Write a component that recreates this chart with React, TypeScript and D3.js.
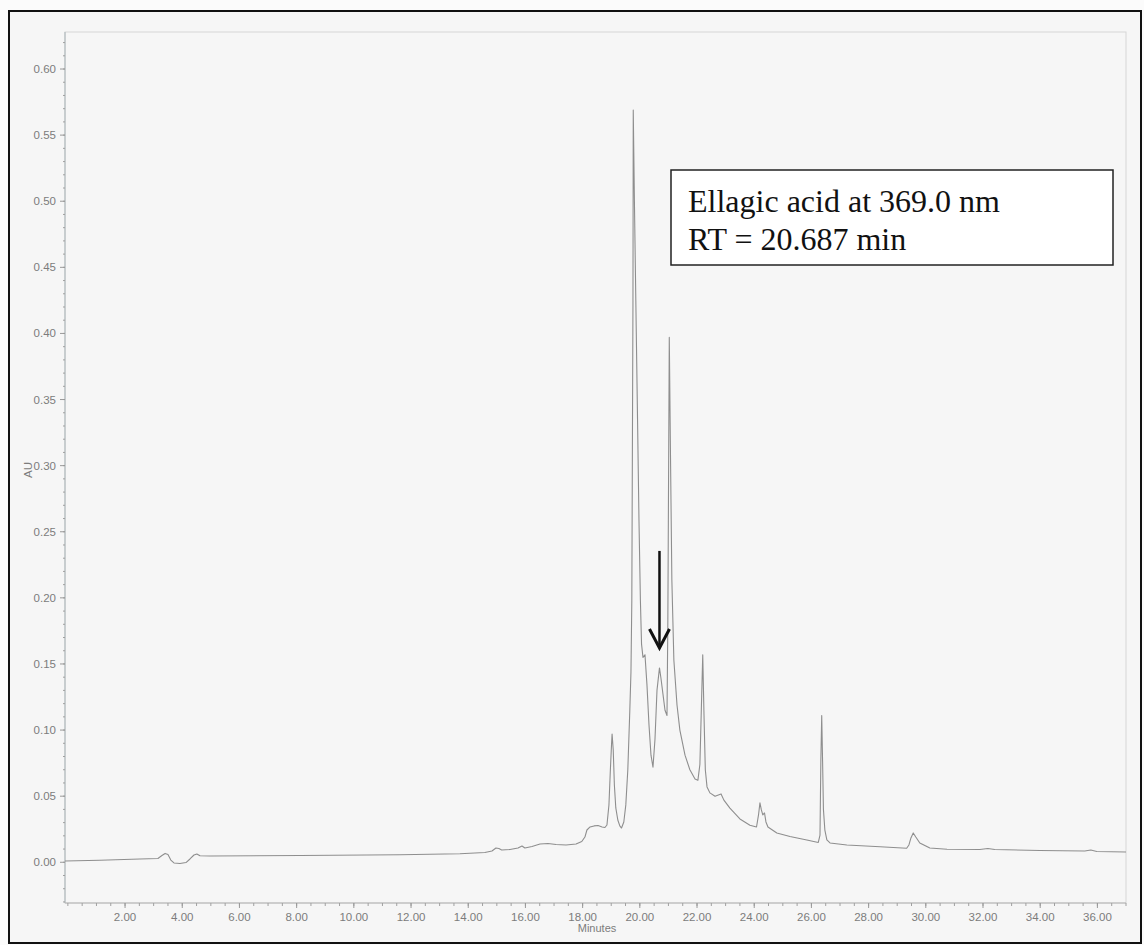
import React from "react";
import * as d3 from "d3";

// Chromatogram trace: retention time (min) and absorbance (AU)
const RT_MIN = [
  -0.1, 1.12, 2.52, 3.15, 3.29, 3.4, 3.5, 3.6, 3.71, 3.92, 4.13, 4.27, 4.41, 4.51, 4.62, 4.97,
  8.12, 11.61, 13.71, 14.58, 14.83, 14.97, 15.07, 15.17, 15.46, 15.74, 15.88, 15.98, 16.23, 16.51,
  16.79, 17.07, 17.42, 17.77, 17.97, 18.08, 18.15, 18.26, 18.4, 18.54, 18.68, 18.78, 18.85, 18.92,
  18.97, 19.01, 19.03, 19.07, 19.11, 19.16, 19.23, 19.3, 19.36, 19.44, 19.51, 19.58, 19.65, 19.69,
  19.72, 19.74, 19.76, 19.77, 19.81, 19.86, 19.92, 19.97, 20.02, 20.06, 20.11, 20.18, 20.25, 20.32,
  20.39, 20.46, 20.53, 20.6, 20.687, 20.74, 20.81, 20.88, 20.95, 20.98, 21.01, 21.03, 21.07, 21.12,
  21.19, 21.3, 21.4, 21.58, 21.75, 21.93, 22.03, 22.1, 22.15, 22.2, 22.24, 22.29, 22.35, 22.45,
  22.63, 22.84, 22.94, 23.15, 23.5, 23.85, 24.08, 24.15, 24.2, 24.25, 24.3, 24.36, 24.41, 24.48,
  24.79, 25.25, 25.84, 26.24, 26.3, 26.33, 26.36, 26.39, 26.42, 26.47, 26.54, 26.65, 27.24, 28.4,
  29.33, 29.41, 29.48, 29.56, 29.65, 29.79, 30.14, 30.74, 31.89, 32.17, 32.41, 33.99, 35.56, 35.77,
  35.98, 37.0,
];

const ABSORBANCE_AU = [
  0.001, 0.0015, 0.0025, 0.0029, 0.0051, 0.0067, 0.0059, 0.0017, -0.0005, -0.0009, -0.0002, 0.0025,
  0.0055, 0.0063, 0.0049, 0.0048, 0.0051, 0.0057, 0.0065, 0.0074, 0.0085, 0.0108, 0.0104, 0.0093,
  0.0097, 0.0108, 0.0123, 0.0108, 0.012, 0.0138, 0.0142, 0.0135, 0.0131, 0.0138, 0.0157, 0.0191,
  0.0244, 0.0267, 0.0275, 0.0278, 0.0267, 0.0263, 0.0282, 0.0433, 0.07, 0.0888, 0.097, 0.085,
  0.0585, 0.0411, 0.032, 0.0275, 0.0259, 0.0305, 0.0434, 0.07, 0.115, 0.144, 0.198, 0.312, 0.425,
  0.569, 0.501, 0.425, 0.335, 0.259, 0.198, 0.165, 0.155, 0.157, 0.134, 0.104, 0.081, 0.072, 0.093,
  0.13, 0.147, 0.139, 0.127, 0.115, 0.111, 0.183, 0.312, 0.397, 0.312, 0.2135, 0.153, 0.119, 0.1,
  0.081, 0.07, 0.063, 0.062, 0.074, 0.115, 0.157, 0.115, 0.07, 0.057, 0.0525, 0.05, 0.0517, 0.047,
  0.041, 0.0328, 0.028, 0.0267, 0.0358, 0.0449, 0.0396, 0.0358, 0.0373, 0.0305, 0.0267, 0.0222,
  0.0195, 0.0169, 0.015, 0.0206, 0.077, 0.111, 0.077, 0.04, 0.0244, 0.0169, 0.0146, 0.0131, 0.0118,
  0.0106, 0.0131, 0.0184, 0.0222, 0.0191, 0.0146, 0.0108, 0.0098, 0.0097, 0.0104, 0.0097, 0.0089,
  0.0085, 0.0093, 0.0082, 0.0078,
];

// Axis tick labels
const X_TICKS = [2, 4, 6, 8, 10, 12, 14, 16, 18, 20, 22, 24, 26, 28, 30, 32, 34, 36];
const Y_TICKS = [0, 0.05, 0.1, 0.15, 0.2, 0.25, 0.3, 0.35, 0.4, 0.45, 0.5, 0.55, 0.6];

// Marked peak
const ELLAGIC_RT = 20.687;
const ELLAGIC_AU = 0.147;
const NOTE_LINES = ["Ellagic acid at 369.0 nm", "RT = 20.687 min"];

const W = 1144;
const H = 945;
const M = { left: 65, right: 1126, top: 32, bottom: 903 };

export default function App() {
  const x = d3.scaleLinear().domain([-0.1, 37]).range([M.left, M.right]);
  const y = d3.scaleLinear().domain([-0.0308, 0.628]).range([M.bottom, M.top]);

  const line = d3
    .line<number>()
    .x((_, i) => x(RT_MIN[i]))
    .y((d) => y(d));

  const xMinor = d3.range(0, 37.01, 0.5);
  const yMinor = d3.range(-0.03, 0.6251, 0.01);

  const sans = "'Liberation Sans', Arial, sans-serif";
  const serif = "'Liberation Serif', 'Times New Roman', serif";
  const tickColor = "#7c7c7c";

  const ax = x(ELLAGIC_RT);
  const tipY = y(ELLAGIC_AU) - 20;
  const tailY = tipY - 97;

  return (
    <svg
      width={W}
      height={H}
      style={{ position: "absolute", left: 0, top: 0, display: "block" }}
      xmlns="http://www.w3.org/2000/svg"
    >
      <rect x={0} y={0} width={W} height={H} fill="#fbfbfb" />
      <rect x={9} y={11} width={1132} height={932} fill="#f6f6f6" stroke="#111" strokeWidth={2} />

      {/* plot frame */}
      <rect
        x={M.left}
        y={M.top}
        width={M.right - M.left}
        height={M.bottom - M.top}
        fill="none"
        stroke="#d6d6d6"
        strokeWidth={1}
      />
      <line x1={M.left} x2={M.left} y1={M.top} y2={M.bottom} stroke="#a9b4b8" strokeWidth={1} />
      <line x1={M.left} x2={M.right} y1={M.bottom} y2={M.bottom} stroke="#b4b4b4" strokeWidth={1} />

      {/* y ticks */}
      {yMinor.map((v, i) => (
        <line key={"ym" + i} x1={M.left - 2} x2={M.left} y1={y(v)} y2={y(v)} stroke="#a0a0a0" strokeWidth={1} />
      ))}
      {Y_TICKS.map((v) => (
        <g key={"y" + v}>
          <line x1={M.left - 5} x2={M.left} y1={y(v)} y2={y(v)} stroke="#999" strokeWidth={1} />
          <text
            x={M.left - 9}
            y={y(v)}
            dy="0.35em"
            textAnchor="end"
            fontFamily={sans}
            fontSize={11.5}
            fill={tickColor}
          >
            {d3.format(".2f")(v)}
          </text>
        </g>
      ))}

      {/* x ticks */}
      {xMinor.map((v, i) => (
        <line key={"xm" + i} x1={x(v)} x2={x(v)} y1={M.bottom} y2={M.bottom + 3} stroke="#a0a0a0" strokeWidth={1} />
      ))}
      {X_TICKS.map((v) => (
        <g key={"x" + v}>
          <line x1={x(v)} x2={x(v)} y1={M.bottom} y2={M.bottom + 5} stroke="#999" strokeWidth={1} />
          <text
            x={x(v)}
            y={M.bottom + 18}
            textAnchor="middle"
            fontFamily={sans}
            fontSize={11.5}
            fill={tickColor}
          >
            {d3.format(".2f")(v)}
          </text>
        </g>
      ))}

      <text x={597} y={932} textAnchor="middle" fontFamily={sans} fontSize={11} fill={tickColor}>
        Minutes
      </text>
      <text
        transform={`translate(32, 470) rotate(-90)`}
        textAnchor="middle"
        fontFamily={sans}
        fontSize={11.5}
        fill={tickColor}
      >
        AU
      </text>

      {/* trace */}
      <path
        d={line(ABSORBANCE_AU) || ""}
        fill="none"
        stroke="#8e8e8e"
        strokeWidth={1.1}
        strokeLinejoin="round"
      />

      {/* arrow to the ellagic acid peak */}
      <line x1={ax} x2={ax} y1={tailY} y2={tipY - 2} stroke="#111" strokeWidth={2.5} />
      <polyline
        points={`${ax - 10},${tipY - 19} ${ax},${tipY} ${ax + 10},${tipY - 19}`}
        fill="none"
        stroke="#111"
        strokeWidth={3}
      />

      {/* annotation */}
      <rect x={671} y={170} width={442} height={95} fill="#fff" stroke="#222" strokeWidth={1.5} />
      {NOTE_LINES.map((t, i) => (
        <text key={t} x={688} y={212 + i * 38} fontFamily={serif} fontSize={32} fill="#111">
          {t}
        </text>
      ))}
    </svg>
  );
}
